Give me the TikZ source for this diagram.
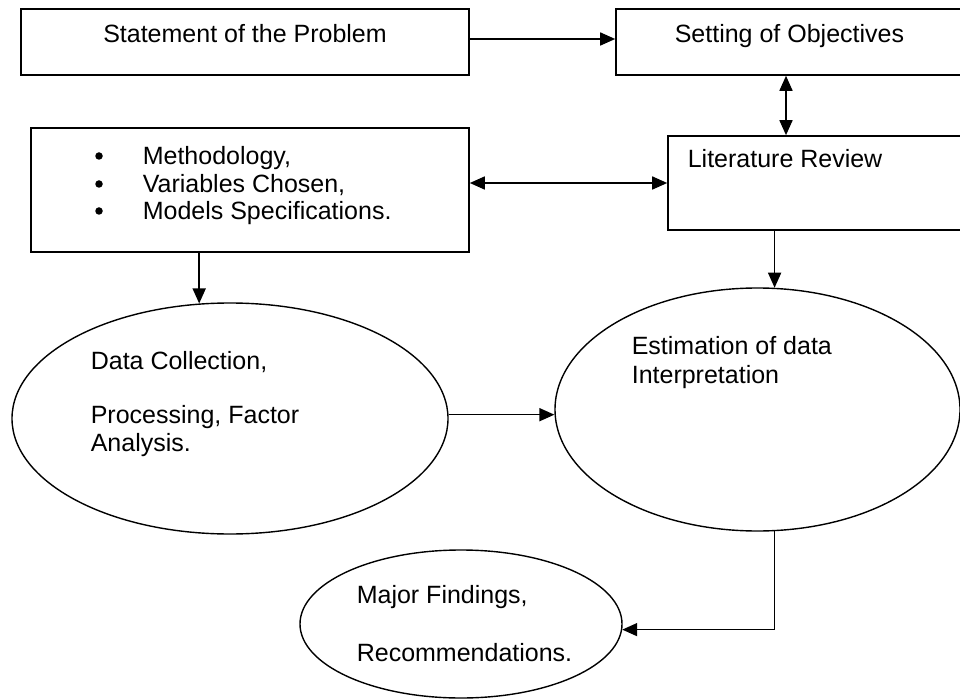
\documentclass[tikz,border=0pt]{standalone}
\usepackage{fontspec}
\setmainfont{Liberation Sans}
\usetikzlibrary{shapes.geometric,arrows.meta}

\begin{document}
\begin{tikzpicture}[x=1pt,y=-1pt,
  line width=1.6pt,
  box/.style={draw, rectangle, inner sep=0pt},
  oval/.style={draw, ellipse, inner sep=0pt, line width=1.4pt},
  lbl/.style={inner sep=0pt, font=\fontsize{25}{30}\selectfont},
  dot/.style={circle, fill=black, inner sep=0pt, minimum size=7.5pt},
  tip/.style={Triangle[length=15pt,width=13pt]},
  arr/.style={-{Triangle[length=15pt,width=13pt]}},
  darr/.style={{Triangle[length=15pt,width=13pt]}-{Triangle[length=15pt,width=13pt]}}]

  % page frame
  \fill[white] (0,0) rectangle (960,700);
  \useasboundingbox (0,0) rectangle (960,700);
  \clip (0,0) rectangle (960,700);

  % rectangular steps
  \node[box, minimum width=448pt, minimum height=66pt] (s) at (245,42) {};
  \node[box, minimum width=354pt, minimum height=66pt] (o) at (793,42) {};
  \node[box, minimum width=438pt, minimum height=124pt] (m) at (250,190) {};
  \node[box, minimum width=302pt, minimum height=94pt] (l) at (819,183) {};

  % elliptical steps
  \node[oval, minimum width=436pt, minimum height=231pt] (e1) at (230,418.5) {};
  \node[oval, minimum width=405pt, minimum height=243pt] (e2) at (757.5,409.5) {};
  \node[oval, minimum width=322pt, minimum height=148pt] (e3) at (461,624) {};

  % texts
  \node[lbl, anchor=base] (ts) at (245,43) {Statement of the Problem};
  \node[lbl, anchor=base west] (to) at (674,43) {Setting of Objectives};

  \node[dot] (b1) at (99,156) {};
  \node[dot] (b2) at (99,184) {};
  \node[dot] (b3) at (99,211) {};
  \node[lbl, anchor=base west] (m1) at (142,165) {Methodology,};
  \node[lbl, anchor=base west] (m2) at (142,193) {Variables Chosen,};
  \node[lbl, anchor=base west] (m3) at (142,220) {Models Specifications.};

  \node[lbl, anchor=base west] (tl) at (687,168) {Literature Review};

  \node[lbl, anchor=base west] (d1) at (90,369) {Data Collection,};
  \node[lbl, anchor=base west] (d2) at (90,423) {Processing, Factor};
  \node[lbl, anchor=base west] (d3) at (90,451) {Analysis.};

  \node[lbl, anchor=base west] (i1) at (631,354) {Estimation of data};
  \node[lbl, anchor=base west] (i2) at (631,383) {Interpretation};

  \node[lbl, anchor=base west] (f1) at (356,603) {Major Findings,};
  \node[lbl, anchor=base west] (f2) at (356,661) {Recommendations.};

  % connectors
  \draw[arr] ([yshift=3pt]s.east) -- ([yshift=3pt]s.east -| o.west);
  \draw[darr] ([xshift=-7pt]o.south) -- ([xshift=-7pt]o.south |- l.north);
  \draw[darr] (m.east |- l.west) -- (l.west);
  \draw[arr] (m.south -| e1.105) -- (e1.105);
  \draw[arr] (l.south -| e2.82) -- (e2.82);
  \draw[arr] (e1.1.5) -- (e1.1.5 -| e2.181);
  \draw[arr] (e2.-82) |- (e3.-2);
\end{tikzpicture}
\end{document}
